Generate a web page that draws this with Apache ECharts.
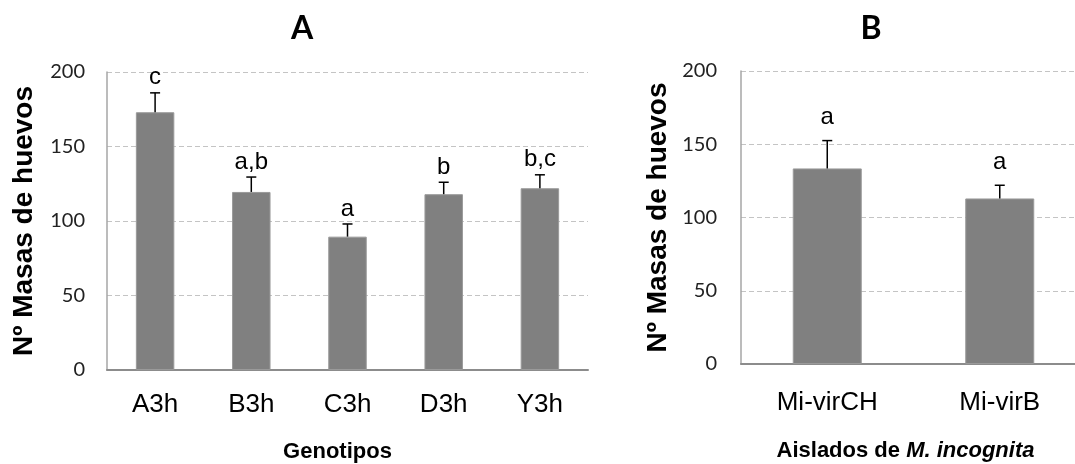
<!DOCTYPE html>
<html>
<head>
<meta charset="utf-8">
<script src="https://cdn.jsdelivr.net/npm/echarts@6/dist/echarts.min.js"></script>
<style>
html,body{margin:0;padding:0;background:#fff;}
#c{width:1075px;height:464px;}
</style>
</head>
<body>
<div id="c"></div>
<script>
// ---- data ----
const categoriesA = ['A3h', 'B3h', 'C3h', 'D3h', 'Y3h'];
const valuesA = [173, 119.5, 89.5, 118, 122];
const errorsA = [13, 10, 8.5, 8, 9];
const lettersA = ['c', 'a,b', 'a', 'b', 'b,c'];

const categoriesB = ['Mi-virCH', 'Mi-virB'];
const valuesB = [133.5, 113];
const errorsB = [19, 9];
const lettersB = ['a', 'a'];

const yMin = 0, yMax = 200, yInterval = 50;

// ---- chart ----
const chart = echarts.init(document.getElementById('c'), null, {renderer: 'canvas'});

function errRender(letters, gap) {
  return function (params, api) {
    const i = params.dataIndex;
    const x = api.value(0), v = api.value(1), e = api.value(2);
    const base = api.coord([x, v]);
    const top = api.coord([x, v + e]);
    return {
      type: 'group',
      children: [
        {type: 'line', shape: {x1: base[0], y1: base[1], x2: top[0], y2: top[1]},
         style: {stroke: '#000', lineWidth: 1.5}},
        {type: 'line', shape: {x1: top[0] - 5, y1: top[1], x2: top[0] + 5, y2: top[1]},
         style: {stroke: '#000', lineWidth: 1.5}},
        {type: 'text', x: top[0], y: top[1] - gap,
         style: {text: letters[i], align: 'center', verticalAlign: 'bottom',
                 fontSize: 24, fontFamily: 'Liberation Sans', fill: '#000'}}
      ]
    };
  };
}

function yAxisCfg(gridIndex, labelMargin) {
  return {
    type: 'value', gridIndex: gridIndex, min: yMin, max: yMax, interval: yInterval,
    name: 'Nº Masas de huevos', nameLocation: 'middle', nameGap: 69,
    nameTextStyle: {fontSize: 28, fontWeight: 'bold', fontFamily: 'Liberation Sans', color: '#000'},
    axisLine: {show: true, lineStyle: {color: '#a6a6a6', width: 1.5}},
    axisTick: {show: false},
    axisLabel: {fontSize: 20, fontFamily: 'Lato', color: '#222', margin: labelMargin},
    splitLine: {show: true, lineStyle: {color: '#c4c4c4', type: [5, 3], width: 1}}
  };
}

function xAxisCfg(gridIndex, cats, name, labelMargin, nameGap, namePadRight) {
  return {
    type: 'category', gridIndex: gridIndex, data: cats,
    name: name, nameLocation: 'middle', nameGap: nameGap,
    nameTextStyle: {fontSize: 22, fontWeight: 'bold', fontFamily: 'Liberation Sans', color: '#000',
      padding: [0, namePadRight, 0, 0],
      rich: {i: {fontSize: 22, fontWeight: 'bold', fontStyle: 'italic', fontFamily: 'Liberation Sans', color: '#000'}}},
    axisLine: {show: true, lineStyle: {color: '#8c8c8c', width: 2}},
    axisTick: {show: false},
    axisLabel: {fontSize: 26, fontFamily: 'Liberation Sans', color: '#000', margin: labelMargin},
    splitLine: {show: false}
  };
}

const option = {
  animation: false,
  backgroundColor: '#fff',
  title: [
    {text: 'A', left: 297, top: 8, textAlign: 'center',
     textStyle: {fontSize: 32, fontWeight: 'bold', fontFamily: 'Lato', color: '#000'}},
    {text: 'B', left: 866, top: 8, textAlign: 'center',
     textStyle: {fontSize: 32, fontWeight: 'bold', fontFamily: 'Lato', color: '#000'}}
  ],
  grid: [
    {left: 107, top: 72, width: 481, height: 298, outerBoundsMode: 'none', containLabel: false},
    {left: 741, top: 71, width: 345, height: 293, outerBoundsMode: 'none', containLabel: false}
  ],
  xAxis: [
    xAxisCfg(0, categoriesA, 'Genotipos', 22, 71, 20),
    xAxisCfg(1, categoriesB, 'Aislados de {i|M. incognita}', 26, 76, 16)
  ],
  yAxis: [yAxisCfg(0, 22), yAxisCfg(1, 24)],
  series: [
    {type: 'bar', xAxisIndex: 0, yAxisIndex: 0, data: valuesA, barWidth: '40%',
     itemStyle: {color: '#808080', borderColor: '#9a9a9a', borderWidth: 1}},
    {type: 'bar', xAxisIndex: 1, yAxisIndex: 1, data: valuesB, barWidth: '40%',
     itemStyle: {color: '#808080', borderColor: '#9a9a9a', borderWidth: 1}},
    {type: 'custom', xAxisIndex: 0, yAxisIndex: 0, z: 5,
     data: valuesA.map((v, i) => [i, v, errorsA[i]]),
     encode: {x: 0, y: 1}, renderItem: errRender(lettersA, 3)},
    {type: 'custom', xAxisIndex: 1, yAxisIndex: 1, z: 5,
     data: valuesB.map((v, i) => [i, v, errorsB[i]]),
     encode: {x: 0, y: 1}, renderItem: errRender(lettersB, 11)}
  ]
};
chart.setOption(option);
</script>
</body>
</html>
